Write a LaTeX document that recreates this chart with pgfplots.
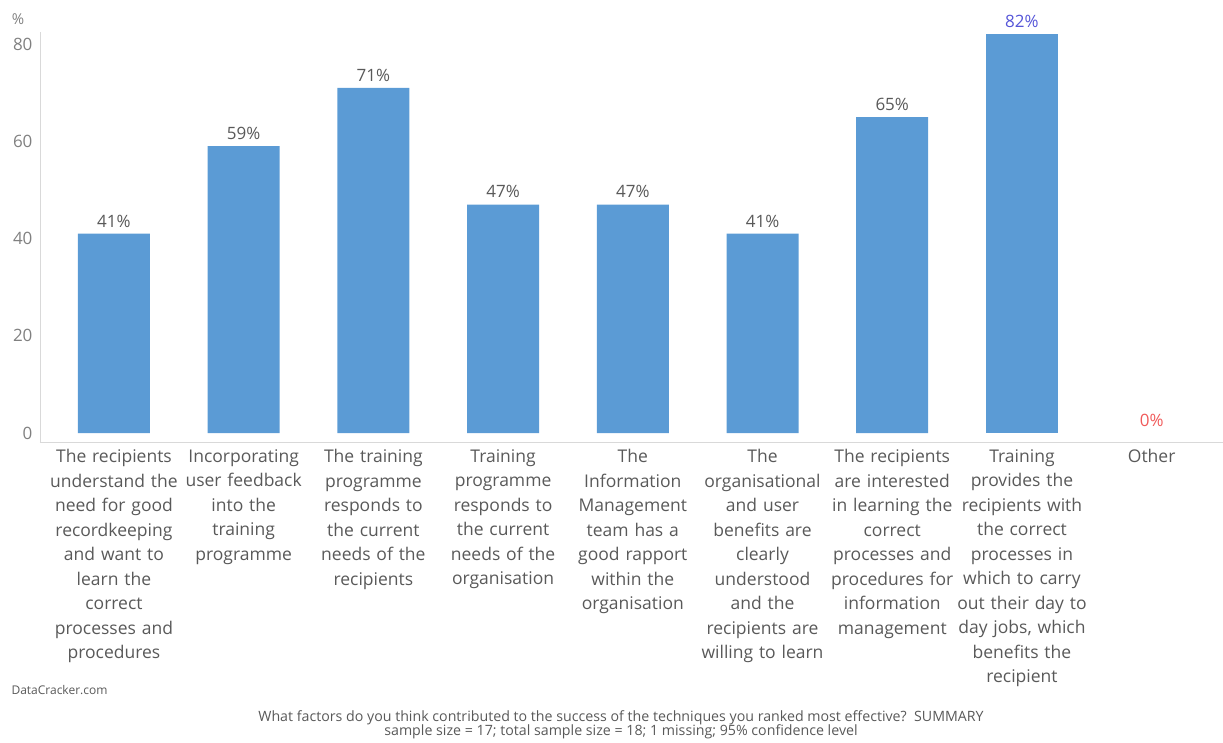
\documentclass[border=0pt]{standalone}
\usepackage{fontspec}
\setmainfont{Open Sans}
\usepackage{pgfplots}
\usetikzlibrary{calc}
\pgfplotsset{compat=1.18}
\definecolor{barblue}{HTML}{5B9BD5}
\definecolor{txtgray}{HTML}{595959}
\definecolor{tickgray}{HTML}{808080}
\definecolor{axgray}{HTML}{D9D9D9}
\definecolor{lblblue}{HTML}{5555D8}
\definecolor{lblred}{HTML}{F05A5A}
\begin{document}
\begin{tikzpicture}[x=1pt,y=1pt]
\begin{axis}[
  name=ax,
  scale only axis, width=1183pt, height=410pt,
  xmin=-0.57, xmax=8.55, ymin=-1.85, ymax=82.5,
  axis lines=left,
  axis line style={-, draw=axgray, line width=0.8pt},
  major tick length=0pt,
  ytick={0,20,40,60,80},
  yticklabel style={font=\fontsize{17}{19}\selectfont, text=tickgray, xshift=-4pt},
  /pgf/number format/assume math mode=true,
  xtick={0,1,2,3,4,5,6,7,8},
  xticklabels={
    {The recipients\\understand the\\need for good\\recordkeeping\\and want to\\learn the\\correct\\processes and\\procedures},
    {Incorporating\\user feedback\\into the\\training\\programme},
    {The training\\programme\\responds to\\the current\\needs of the\\recipients},
    {Training\\programme\\responds to\\the current\\needs of the\\organisation},
    {The\\Information\\Management\\team has a\\good rapport\\within the\\organisation},
    {The\\organisational\\and user\\benefits are\\clearly\\understood\\and the\\recipients are\\willing to learn},
    {The recipients\\are interested\\in learning the\\correct\\processes and\\procedures for\\information\\management},
    {Training\\provides the\\recipients with\\the correct\\processes in\\which to carry\\out their day to\\day jobs, which\\benefits the\\recipient},
    {Other}},
  xticklabel style={font=\fontsize{17.5}{24.5}\selectfont, text=txtgray, align=center, text width=160pt, anchor=north, yshift=-4pt},
  ybar, bar width=72pt, bar shift=0pt,
  nodes near coords={\pgfmathprintnumber{\pgfplotspointmeta}\%},
  nodes near coords style={font=\fontsize{17}{19}\selectfont, text=txtgray, yshift=3pt},
  clip=false,
]
\addplot[fill=barblue, draw=none] coordinates {(0,41) (1,59) (2,71) (3,47) (4,47) (5,41) (6,65)};
\addplot[fill=barblue, draw=none, nodes near coords style={text=lblblue}] coordinates {(7,82)};
\addplot[fill=none, draw=none, nodes near coords style={text=lblred}] coordinates {(8,0)};
\end{axis}
\pgfresetboundingbox
\path[use as bounding box] (ax.south west) ++(-40,-300) rectangle ++(1223,742);
\path (ax.south west) ++(-40,-300) coordinate (O);
\node[font=\fontsize{15}{17}\selectfont, text=tickgray] at ($(O)+(18,723)$) {\%};
\node[font=\fontsize{12}{14}\selectfont, text=txtgray, anchor=west] at ($(O)+(8,52)$) {DataCracker.com};
\node[font=\fontsize{14.2}{14.5}\selectfont, text=txtgray, align=center] at ($(O)+(621,17)$) {What factors do you think contributed to the success of the techniques you ranked most effective?\ \ SUMMARY\\sample size = 17; total sample size = 18; 1 missing; 95\% confidence level};
\end{tikzpicture}
\end{document}
